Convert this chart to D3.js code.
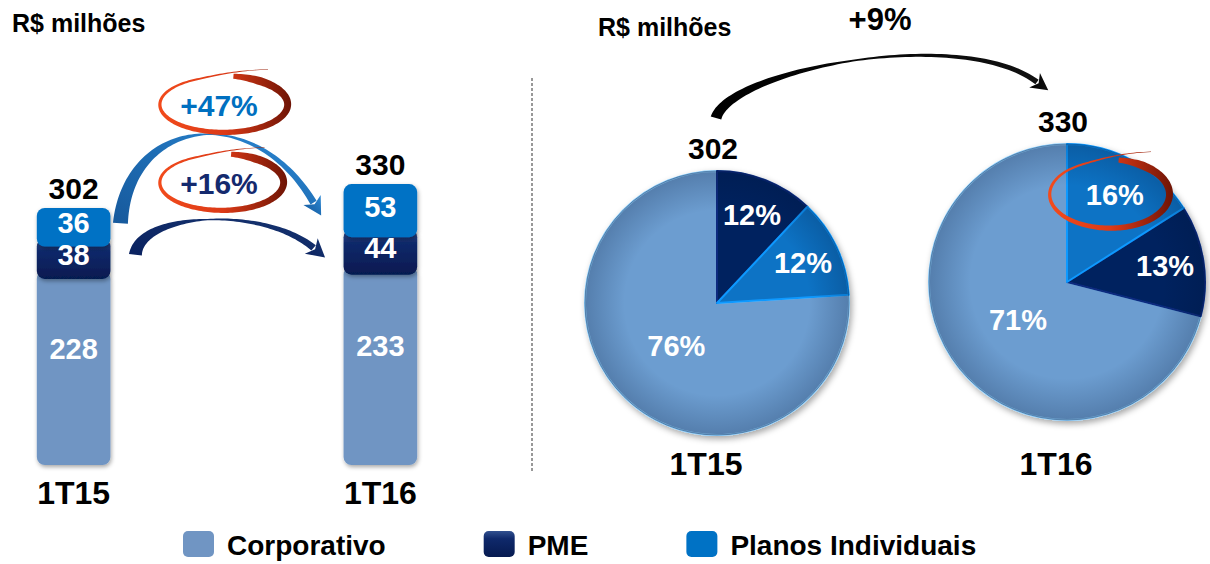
<!DOCTYPE html>
<html>
<head>
<meta charset="utf-8">
<script src="https://cdn.jsdelivr.net/npm/d3@7"></script>
<style>
  body { margin: 0; background: #fff; }
  svg text { font-family: "Liberation Sans", Arial, sans-serif; font-weight: bold; }
</style>
</head>
<body>
<div id="chart"></div>
<script>
// Data (R$ milhões)
var periods = ["1T15", "1T16"];
var segments = ["Corporativo", "PME", "Planos Individuais"];
var corporativo = [228, 233];
var pme = [38, 44];
var planos = [36, 53];
// shares printed on the pies (%), same order as segments
var shares1T15 = [76, 12, 12];
var shares1T16 = [71, 13, 16];
var unitLabel = "R$ milhões";

// Variables
var width = 1210;
var height = 564;
var barColor = {"Corporativo": "#7095c3", "PME": "url(#gPme)", "Planos Individuais": "#0072c5"};
var pieColor = {"Corporativo": "#6c9dd0", "PME": "#06215f", "Planos Individuais": "#0a73c5"};

var svg = d3.select("#chart")
    .append("svg")
    .attr("width", width)
    .attr("height", height);

// Gradients and shadows
var defs = svg.append("defs");

function linGrad(id, x1, y1, x2, y2, stops) {
    var g = defs.append("linearGradient").attr("id", id)
        .attr("x1", x1).attr("y1", y1).attr("x2", x2).attr("y2", y2);
    stops.forEach(function (s) {
        g.append("stop").attr("offset", s[0]).attr("stop-color", s[1]);
    });
}
linGrad("gPme", 0, 0, 0, 1, [[0, "#31508f"], [0.3, "#0f296b"], [1, "#061a50"]]);
linGrad("gRing", 0, 0, 1, 0, [[0, "#f24b1c"], [0.5, "#dc3a17"], [1, "#6e1405"]]);
linGrad("gBlue", 0, 1, 1, 0, [[0, "#17599c"], [0.5, "#1e6db4"], [1, "#2d8ad6"]]);
linGrad("gNavy", 0, 1, 1, 0, [[0, "#0a2260"], [1, "#16336f"]]);
linGrad("gBlack", 0, 0, 1, 0, [[0, "#000"], [1, "#111"]]);

var rg = defs.append("radialGradient").attr("id", "gPieEdge");
rg.append("stop").attr("offset", 0.7).attr("stop-color", "#001030").attr("stop-opacity", 0);
rg.append("stop").attr("offset", 1).attr("stop-color", "#001030").attr("stop-opacity", 0.22);

var sh = defs.append("filter").attr("id", "shadow")
    .attr("x", "-20%").attr("y", "-20%").attr("width", "140%").attr("height", "140%");
sh.append("feDropShadow").attr("dx", 1).attr("dy", 2)
    .attr("stdDeviation", 2).attr("flood-opacity", 0.35);

var psh = defs.append("filter").attr("id", "pieShadow")
    .attr("x", "-20%").attr("y", "-20%").attr("width", "140%").attr("height", "140%");
psh.append("feDropShadow").attr("dx", 2).attr("dy", 3)
    .attr("stdDeviation", 3).attr("flood-opacity", 0.35);

// Shape helpers: tapered curved strokes
function cubic(p, t) {
    var u = 1 - t;
    return [u * u * u * p[0][0] + 3 * u * u * t * p[1][0] + 3 * u * t * t * p[2][0] + t * t * t * p[3][0],
            u * u * u * p[0][1] + 3 * u * u * t * p[1][1] + 3 * u * t * t * p[2][1] + t * t * t * p[3][1]];
}

function taper(pointAt, widthAt, n) {
    var left = [], right = [];
    for (var i = 0; i <= n; i++) {
        var t = i / n;
        var a = pointAt(Math.max(0, t - 0.001)), b = pointAt(Math.min(1, t + 0.001));
        var dx = b[0] - a[0], dy = b[1] - a[1], len = Math.hypot(dx, dy) || 1;
        var nx = -dy / len, ny = dx / len;
        var p = pointAt(t), w = widthAt(t) / 2;
        left.push([p[0] + nx * w, p[1] + ny * w]);
        right.push([p[0] - nx * w, p[1] - ny * w]);
    }
    return "M" + left.join("L") + "L" + right.reverse().join("L") + "Z";
}

function swoosh(g, p, widths, headW, headL, fill) {
    var w = d3.scaleLinear().domain([0, widths[1], 1]).range([widths[0], widths[2], widths[3]]);
    g.append("path")
        .attr("d", taper(function (t) { return cubic(p, t); }, w, 80))
        .attr("fill", fill);
    var dx = p[3][0] - p[2][0], dy = p[3][1] - p[2][1], len = Math.hypot(dx, dy);
    dx /= len; dy /= len;
    var e = p[3];
    var tip = [e[0] + dx * headL, e[1] + dy * headL];
    var l = [e[0] - dy * headW - dx * 3, e[1] + dx * headW - dy * 3];
    var r = [e[0] + dy * headW - dx * 3, e[1] - dx * headW - dy * 3];
    var notch = [e[0] + dx * 2, e[1] + dy * 2];
    g.append("path")
        .attr("d", "M" + [l, tip, r, notch].join("L") + "Z")
        .attr("fill", fill);
}

// hand-drawn style ellipse, thick start at the top, thin tail crossing past it
function ring(g, cx, cy, rx, ry) {
    var t0 = -81 * Math.PI / 180, span = (360 + 20) * Math.PI / 180;
    var w = d3.scaleLinear().domain([0, 0.06, 0.35, 0.65, 0.88, 1]).range([5, 8, 6, 3.5, 1.8, 0.4]);
    function s(t) {
        if (t < 0.5) return 1.04 - 0.14 * t;
        if (t < 0.85) return 0.97 + 0.03 * (t - 0.5) / 0.35;
        var k = (t - 0.85) / 0.15;
        return 1 + 0.45 * k * k;
    }
    g.append("path")
        .attr("d", taper(function (t) {
            var a = t0 + span * t;
            return [cx + rx * s(t) * Math.cos(a), cy + ry * s(t) * Math.sin(a)];
        }, w, 180))
        .attr("fill", "url(#gRing)");
}

// ---------------- Left: stacked bars ----------------
var rows = periods.map(function (p, i) {
    return {period: p, "Corporativo": corporativo[i], "PME": pme[i], "Planos Individuais": planos[i]};
});
var series = d3.stack().keys(segments)(rows);
var totals = rows.map(function (r) { return d3.sum(segments, function (k) { return r[k]; }); });

var x = d3.scaleBand()
    .domain(periods)
    .range([0, 454])
    .paddingInner(0.76)
    .paddingOuter(0.12);

var y = d3.scaleLinear()
    .domain([0, 390])
    .range([465, 133]);

var bars = svg.append("g");
series.forEach(function (s, k) {
    bars.selectAll(null)
        .data(s)
        .enter().append("rect")
        .attr("x", function (d) { return x(d.data.period); })
        .attr("y", function (d) { return y(d[1]); })
        .attr("width", x.bandwidth())
        .attr("height", function (d) { return y(d[0]) - y(d[1]) + (k ? 8 : 0); })
        .attr("rx", 8)
        .attr("fill", barColor[s.key])
        .attr("filter", "url(#shadow)");
});

// values inside segments
series.forEach(function (s, k) {
    bars.selectAll(null)
        .data(s)
        .enter().append("text")
        .attr("x", function (d) { return x(d.data.period) + x.bandwidth() / 2; })
        .attr("y", function (d) {
            var h = y(d[0]) - y(d[1]);
            return y(d[1]) + h * (k ? 0.5 : 0.4) + 10;
        })
        .attr("text-anchor", "middle")
        .attr("font-size", 29)
        .attr("fill", "#fff")
        .text(function (d) { return d[1] - d[0]; });
});

// totals and periods
bars.selectAll(null)
    .data(periods)
    .enter().append("text")
    .attr("x", function (p) { return x(p) + x.bandwidth() / 2; })
    .attr("y", function (p, i) { return y(totals[i]) - 9; })
    .attr("text-anchor", "middle")
    .attr("font-size", 30)
    .attr("fill", "#000")
    .text(function (p, i) { return totals[i]; });

bars.selectAll(null)
    .data(periods)
    .enter().append("text")
    .attr("x", function (p) { return x(p) + x.bandwidth() / 2; })
    .attr("y", 504)
    .attr("text-anchor", "middle")
    .attr("font-size", 32)
    .attr("fill", "#000")
    .text(function (p) { return p; });

// growth arrows between bars
function segMid(k, i) { var d = series[k][i]; return (y(d[0]) + y(d[1])) / 2; }
var b1r = x(periods[0]) + x.bandwidth();
var b2l = x(periods[1]);
var ann = svg.append("g");

swoosh(ann, [[b1r + 10, segMid(2, 0)], [b1r + 18, 118], [b2l - 90, 100], [b2l - 30, segMid(2, 1) - 4]],
    [15, 0.55, 1.2, 7], 10, 15, "url(#gBlue)");
swoosh(ann, [[b1r + 25, segMid(1, 0)], [b1r + 30, 212], [b2l - 80, 206], [b2l - 30, segMid(1, 1)]],
    [13, 0.5, 1.2, 7], 10, 15, "url(#gNavy)");

function growth(a, b) { return "+" + Math.round((b / a - 1) * 100) + "%"; }
var ringX = (b1r + b2l) / 2;
ring(ann, ringX - 4, 105, 64, 28);
ring(ann, ringX - 6, 183, 62, 28);
ann.append("text")
    .attr("x", ringX - 8).attr("y", 116)
    .attr("text-anchor", "middle").attr("font-size", 30).attr("fill", "#0070c0")
    .text(growth(planos[0], planos[1]));
ann.append("text")
    .attr("x", ringX - 8).attr("y", 194)
    .attr("text-anchor", "middle").attr("font-size", 30).attr("fill", "#142a6e")
    .text(growth(pme[0], pme[1]));

// unit labels and divider
svg.append("text").attr("x", 12).attr("y", 32).attr("font-size", 25).text(unitLabel);
svg.append("text").attr("x", 598).attr("y", 36).attr("font-size", 25).text(unitLabel);
svg.append("line")
    .attr("x1", 532).attr("x2", 532).attr("y1", 78).attr("y2", 472)
    .attr("stroke", "#333").attr("stroke-width", 1).attr("stroke-dasharray", "3,2");

// ---------------- Right: pies ----------------
var pieCenter = {"1T15": [717, 303], "1T16": [1067, 282]};
var shares = [shares1T15, shares1T16];
var values = [corporativo, pme, planos];

var r = d3.scaleSqrt()
    .domain([0, d3.max(totals)])
    .range([0, 138]);

var pie = d3.pie()
    .value(function (d) { return d.share; })
    .sort(function (a, b) {
        return (a.cat === "Corporativo") - (b.cat === "Corporativo") || b.value - a.value;
    })
    .startAngle(0)
    .endAngle(2 * Math.PI);

var ringAt = null;
periods.forEach(function (p, i) {
    var c = pieCenter[p];
    var rad = r(totals[i]);
    var data = segments.map(function (s, j) {
        return {cat: s, share: shares[i][j], value: values[j][i]};
    });
    var arcs = pie(data);
    var arc = d3.arc().innerRadius(0).outerRadius(rad);
    var g = svg.append("g").attr("transform", "translate(" + c[0] + "," + c[1] + ")");

    var slices = g.append("g").attr("filter", "url(#pieShadow)");
    slices.selectAll("path")
        .data(arcs)
        .enter().append("path")
        .attr("d", arc)
        .attr("fill", function (d) { return pieColor[d.data.cat]; })
        .attr("stroke", function (d) { return d3.color(pieColor[d.data.cat]).brighter(0.8); })
        .attr("stroke-width", 2)
        .attr("stroke-linejoin", "round");
    g.append("circle").attr("r", rad).attr("fill", "url(#gPieEdge)")
        .attr("stroke", "rgba(0,20,60,0.35)").attr("stroke-width", 1);

    g.selectAll("text.pct")
        .data(arcs)
        .enter().append("text")
        .attr("class", "pct")
        .attr("x", function (d) {
            var m = (d.startAngle + d.endAngle) / 2;
            return Math.sin(m) * rad * (d.data.cat === "Corporativo" ? 0.45 : 0.72);
        })
        .attr("y", function (d) {
            var m = (d.startAngle + d.endAngle) / 2;
            return -Math.cos(m) * rad * (d.data.cat === "Corporativo" ? 0.45 : 0.72) + 10;
        })
        .attr("text-anchor", "middle")
        .attr("font-size", 29)
        .attr("fill", "#fff")
        .text(function (d) { return d.data.share + "%"; });

    // highlight the Planos share of the latest period
    if (i === periods.length - 1) {
        var d = arcs[2], m = (d.startAngle + d.endAngle) / 2;
        ringAt = [c[0] + Math.sin(m) * rad * 0.72 - 6, c[1] - Math.cos(m) * rad * 0.72];
    }

    g.append("text")
        .attr("x", -4).attr("y", -rad - 12)
        .attr("text-anchor", "middle").attr("font-size", 30).attr("fill", "#000")
        .text(totals[i]);
    svg.append("text")
        .attr("x", c[0] - 11).attr("y", 475)
        .attr("text-anchor", "middle").attr("font-size", 32).attr("fill", "#000")
        .text(p);
});
ring(svg, ringAt[0], ringAt[1], 60, 34);

// total growth arrow
var cs = pieCenter[periods[0]], cb = pieCenter[periods[1]];
swoosh(svg, [[cs[0] - 1, 118], [cs[0] + 13, 70], [cb[0] - 107, 25], [cb[0] - 30, 82]],
    [11, 0.5, 1.8, 5.5], 9, 14, "url(#gBlack)");
svg.append("text")
    .attr("x", 880).attr("y", 30)
    .attr("text-anchor", "middle").attr("font-size", 31).attr("fill", "#000")
    .text(growth(totals[0], totals[1]));

// ---------------- Legend ----------------
var legend = svg.append("g");
var lx = 183;
segments.forEach(function (s) {
    legend.append("rect")
        .attr("x", lx).attr("y", 531).attr("width", 31).attr("height", 26).attr("rx", 5)
        .attr("fill", barColor[s]);
    var t = legend.append("text")
        .attr("x", lx + 44).attr("y", 555)
        .attr("font-size", 28).attr("fill", "#000")
        .text(s);
    lx = lx + 44 + t.node().getComputedTextLength() + 98;
});
</script>
</body>
</html>
